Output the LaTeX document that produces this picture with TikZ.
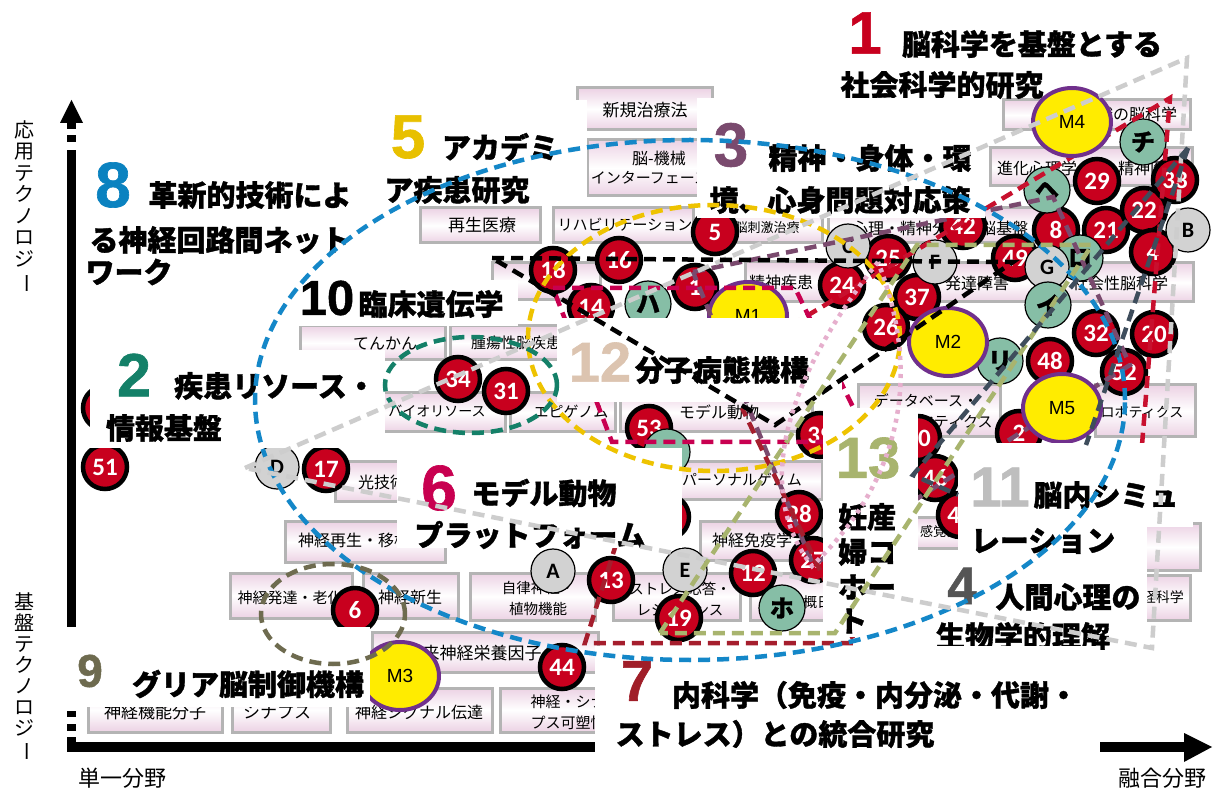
\documentclass[tikz,border=0pt]{standalone}
\usepackage{fontspec}
\setmainfont{Noto Sans CJK JP}
\newfontfamily\jp{Noto Sans CJK JP}[BoldFeatures={FakeBold=1.2}]
\newfontfamily\lat{Liberation Sans}[BoldFeatures={FakeBold=1}]
\newfontfamily\carl{Carlito}
\usetikzlibrary{shapes.geometric}
\definecolor{cRed}{RGB}{200,0,30}
\definecolor{cGreen}{RGB}{134,190,166}
\definecolor{cGray}{RGB}{210,210,210}
\definecolor{cYel}{RGB}{255,236,0}
\definecolor{cPur}{RGB}{112,48,140}
\definecolor{catpink}{RGB}{236,210,228}
\definecolor{catedge}{RGB}{180,180,180}
\definecolor{n1}{RGB}{200,0,30}
\definecolor{n2}{RGB}{20,128,104}
\definecolor{n3}{RGB}{122,74,110}
\definecolor{n4}{RGB}{85,85,85}
\definecolor{n5}{RGB}{232,192,0}
\definecolor{n6}{RGB}{200,0,80}
\definecolor{n7}{RGB}{160,30,40}
\definecolor{n8}{RGB}{10,130,192}
\definecolor{n9}{RGB}{110,107,79}
\definecolor{n11}{RGB}{190,190,190}
\definecolor{n12}{RGB}{220,196,176}
\definecolor{n13}{RGB}{168,180,110}
\definecolor{lBlue}{RGB}{20,135,200}
\definecolor{lYel}{RGB}{238,195,0}
\definecolor{lTeal}{RGB}{20,128,104}
\definecolor{lOlD}{RGB}{110,107,79}
\definecolor{lGray}{RGB}{205,205,205}
\definecolor{lOl}{RGB}{168,180,110}
\definecolor{lPink}{RGB}{230,175,205}
\definecolor{lSlate}{RGB}{62,77,92}
\definecolor{lRed}{RGB}{200,16,46}
\definecolor{lMag}{RGB}{200,0,80}
\definecolor{lDRed}{RGB}{165,30,45}
\definecolor{lPur}{RGB}{122,74,110}
\newcommand\cbox[4]{\path[cat] (#1,#2) rectangle (#3,#4);}
\tikzset{
 cat/.style={draw=catedge, line width=3pt, top color=catpink, bottom color=catpink, middle color=white},
 bt/.style={font=\jp\fontsize{#1}{#1}\selectfont, inner sep=0pt},
 btt/.style={font=\jp\fontsize{#1}{21}\selectfont, inner sep=0pt, align=center},
 redc/.style={circle, fill=cRed, draw=black, line width=4.5pt, minimum size=44pt, inner sep=0pt, text=white, font=\carl\bfseries\fontsize{25}{25}\selectfont},
 grnc/.style={circle, fill=cGreen, draw=black, line width=1.2pt, minimum size=46pt, inner sep=0pt, font=\jp\bfseries\fontsize{24}{24}\selectfont},
 gryc/.style={circle, fill=cGray, draw=black, line width=1.2pt, minimum size=44pt, inner sep=0pt, font=\carl\bfseries\fontsize{22}{22}\selectfont},
 mc/.style={ellipse, fill=cYel, draw=cPur, line width=4pt, minimum width=78pt, minimum height=68pt, inner sep=0pt, font=\lat\fontsize{19}{19}\selectfont},
 lab/.style={font=\jp\bfseries\fontsize{29}{29}\selectfont, inner sep=0pt},
 bn/.style={font=\lat\bfseries\fontsize{#1}{#1}\selectfont, inner sep=0pt},
 dl/.style={dash pattern=on 12pt off 7pt, line width=4.5pt},
 wb/.style={fill=white},
}
\begin{document}
\begin{tikzpicture}[x=1pt,y=-1pt]
\useasboundingbox (0,0) rectangle (1219,791);
\fill[white] (0,0) rectangle (1219,791);
% ---------- axes
\fill (60,123) -- (83,123) -- (71.5,100) -- cycle;
\fill (67,123) rectangle (76,129);
\fill (67,135) rectangle (76,142);
\fill (67,150) rectangle (76,630);
\fill (67,711) rectangle (76,717);
\fill (67,724) rectangle (76,731);
\fill (67,737) rectangle (76,752);
\fill (67,742) rectangle (596,752);
\fill (1100,742) rectangle (1186,752);
\fill (1184,733) -- (1212,747) -- (1184,762) -- cycle;
\node[font=\jp\fontsize{20}{21.5}\selectfont, align=center, inner sep=0pt] (ax1) at (24,207) {応\\用\\テ\\ク\\ノ\\ロ\\ジ\\\rotatebox[origin=c]{-90}{ー}};
\node[font=\jp\fontsize{20}{21}\selectfont, align=center, inner sep=0pt] (ax2) at (24,677) {基\\盤\\テ\\ク\\ノ\\ロ\\ジ\\\rotatebox[origin=c]{-90}{ー}};
\node[bt=22] (ax3) at (122,778) {単一分野};
\node[bt=22] (ax4) at (1162,778) {融合分野};
% ---------- category boxes
\cbox{577}{88}{712}{130}   \node[bt=17] (b1) at (645,110) {新規治療法};
\cbox{587}{140}{745}{196}  \node[bt=16,anchor=west] (b2a) at (632,158) {脳-機械}; \node[bt=15] (b2b) at (650,178) {インターフェース};
\cbox{420}{208}{540}{243}  \node[bt=17] (b3) at (482,225) {再生医療};
\cbox{553}{208}{693}{243}  \node[bt=15] (b4) at (625,225) {リハビリテーション};
\cbox{700}{208}{822}{243}  \node[bt=13] (b5) at (767,228) {脳刺激治療};
\cbox{828}{208}{1045}{243} \node[bt=16,anchor=west] (b6) at (852,228) {心理・精神分析の脳基盤};
\cbox{1003}{100}{1190}{130} \node[bt=16] (b7) at (1105,114) {自我・意識の脳科学};
\cbox{990}{148}{1192}{186} \node[bt=16,anchor=west] (b8a) at (997,168) {進化心理学}; \node[bt=16,anchor=west] (b8b) at (1118,168) {精神医学};
\cbox{1060}{263}{1193}{302} \node[bt=16] (b9) at (1120,283) {社会性脳科学};
\cbox{930}{263}{1035}{302} \node[bt=16] (b10) at (977,283) {発達障害};
\cbox{745}{262}{835}{302}  \node[bt=16] (b11) at (781,282) {精神疾患};
\cbox{492}{263}{600}{300}
\cbox{300}{326}{445}{360}  \node[bt=16] (b13) at (385,343) {てんかん};
\cbox{450}{326}{565}{360}  \node[bt=15] (b14) at (516,343) {腫瘍性脳疾患};
\cbox{380}{393}{505}{432}  \node[bt=14] (b15) at (437,411) {バイオリソース};
\cbox{510}{393}{615}{432}  \node[bt=15] (b16) at (571,412) {エピゲノム};
\cbox{620}{393}{812}{432}  \node[bt=16] (b17) at (719,412) {モデル動物};
\cbox{858}{385}{1000}{437} \node[btt=15] (b18) at (926,411) {データベース・\\インフォマティクス};
\cbox{1095}{385}{1195}{437} \node[bt=14] (b19) at (1142,412) {ロボティクス};
\cbox{335}{462}{445}{502}  \node[bt=16] (b20) at (382,482) {光技術};
\cbox{680}{462}{822}{500}  \node[bt=15] (b21) at (742,480) {パーソナルゲノム};
\cbox{285}{522}{445}{562}  \node[bt=16] (b22) at (354,540) {神経再生・移植};
\cbox{700}{522}{822}{560}  \node[bt=16] (b23) at (752,540) {神経免疫学};
\cbox{905}{518}{990}{548}  \node[bt=13,anchor=west] (b24) at (920,532) {感覚器};
\cbox{230}{573}{352}{618}  \node[bt=15] (b25) at (290,598) {神経発達・老化};
\cbox{363}{573}{458}{618}  \node[bt=16] (b26) at (410,597) {神経新生};
\cbox{470}{573}{595}{620}  \node[btt=14.5] (b27) at (538,598) {自律神経・\\植物機能};
\cbox{613}{573}{740}{620}  \node[btt=14.5] (b28) at (680,599) {ストレス応答・\\レジリエンス};
\cbox{750}{573}{830}{620}  \node[bt=14,anchor=west] (b29) at (803,602) {概日リズム};
\cbox{1050}{575}{1190}{620} \node[bt=14,anchor=east] (b30) at (1184,597) {神経科学};
\cbox{1100}{524}{1200}{570}
\cbox{372}{632}{598}{672}  \node[bt=17] (b31) at (465,653) {脳由来神経栄養因子};
\cbox{88}{688}{222}{732}   \node[bt=17] (b32) at (155,712) {神経機能分子};
\cbox{232}{688}{330}{732}  \node[bt=17] (b33) at (277,712) {シナプス};
\cbox{347}{688}{492}{732}  \node[bt=16] (b34) at (419,712) {神経シグナル伝達};
\cbox{500}{688}{600}{732}  \node[btt=15] (b35) at (568,712) {神経・シナ\\プス可塑性};
% ---------- red circles
\node[redc] (rh1) at (105,408) {};
\node[redc] (r51) at (105,467) {51};
\node[redc] (r17) at (326,469) {17};
\node[redc] (r34) at (458,379) {34};
\node[redc] (r31) at (506,391) {31};
\node[redc] (r18) at (553,270) {18};
\node[redc] (r16) at (619,260) {16};
\node[redc] (r14) at (591,307) {14};
\node[redc] (r1) at (695,287) {1};
\node[redc] (r5) at (715,232) {5};
\node[redc] (r24) at (842,285) {24};
\node[redc] (r25) at (888,258) {25};
\node[redc] (r42) at (963,226) {42};
\node[redc] (r49) at (1015,258) {49};
\node[redc] (r37) at (917,297) {37};
\node[redc] (r26) at (886,327) {26};
\node[redc] (r29) at (1097,181) {29};
\node[redc] (r8) at (1056,230) {8};
\node[redc] (r21) at (1106,230) {21};
\node[redc] (r22) at (1144,210) {22};
\node[redc] (r33) at (1175,180) {33};
\node[redc] (r4) at (1153,252) {4};
\node[redc] (r32) at (1096,333) {32};
\node[redc] (r20) at (1154,334) {20};
\node[redc] (r52) at (1124,372) {52};
\node[redc] (r48) at (1050,361) {48};
\node[redc] (r2) at (1019,433) {2};
\node[redc] (r30) at (918,438) {30};
\node[redc] (r46) at (935,478) {46};
\node[redc] (r47) at (960,515) {47};
\node[redc] (r53) at (649,428) {53};
\node[redc] (r39) at (820,435) {39};
\node[redc] (r28) at (799,514) {28};
\node[redc] (r27) at (813,560) {27};
\node[redc] (r12) at (753,573) {12};
\node[redc] (r13) at (611,580) {13};
\node[redc] (r19) at (679,618) {19};
\node[redc] (r44) at (562,667) {44};
\node[redc] (r6) at (355,610) {6};
\node[redc] (rh2) at (667,517) {};
% ---------- gray circles
\node[gryc] (gA) at (553,571) {A};
\node[gryc] (gE) at (685,570) {E};
\node[gryc] (gB) at (1188,230) {B};
\node[gryc] (gC) at (848,246) {C};
\node[gryc] (gF) at (935,262) {F};
\node[grnc] (kro) at (1080,258) {ロ};
\node[gryc] (gG) at (1047,267) {G};
\node[gryc] (gD) at (277,467) {D};
% ---------- green circles
\node[grnc] (khe) at (1047,190) {ヘ};
\node[grnc] (kchi) at (1143,142) {チ};
\node[grnc] (ki) at (1048,305) {イ};
\node[grnc] (kri) at (1000,361) {リ};
\node[grnc] (kha) at (648,304) {ハ};
\node[grnc] (kho) at (782,608) {ホ};
\node[grnc] (kni) at (667,452) {};
\node[mc] (m1) at (748,316) {M1};
% ---------- lines under labels
\draw[dl, lRed] (790,326) -- (1170,98) -- (1142,445);
\draw[dl, lMag] (553,288) -- (795,288) -- (870,442) -- (612,442) -- cycle;
\draw[dl, lPur] (693,272) -- (1053,197) -- (1130,365) -- (1020,433) -- (813,565) -- cycle;
\draw[dl, lDRed] (645,452) -- (585,643) -- (855,643) -- (742,408);
% ---------- M circles
\node[mc] (m4) at (1072,122) {M4};
\node[mc] (m2) at (948,342) {M2};
\node[mc] (m5) at (1062,408) {M5};
\node[mc] (m3) at (400,676) {M3};
% ---------- labels
\node[bn=60, text=n1] (t1) at (865,33) {1};
\node[lab] (l1a) at (1032,44) {脳科学を基盤とする};
\node[lab] (l1b) at (942,85) {社会科学的研究};
\fill[white] (697,98) rectangle (985,218);
\node[bn=62, text=n3] (t3) at (731,145) {3};
\node[lab] (l3a) at (870,158) {精神・身体・環};
\node[lab] (l3b) at (840,200) {境、心身問題対応策};
\fill[white] (380,100) rectangle (587,205);
\node[bn=62, text=n5] (t5) at (408,137) {5};
\node[lab] (l5a) at (500,147) {アカデミ};
\node[lab] (l5b) at (457,190) {ア疾患研究};
\node[bn=64, text=n8] (t8) at (113,185) {8};
\node[lab] (l8a) at (250,195) {革新的技術によ};
\node[lab] (l8b) at (220,240) {る神経回路間ネット};
\node[lab] (l8c) at (129,272) {ワーク};
\fill[white] (287,280) rectangle (518,326);
\node[bn=49] (t10) at (327,298) {10};
\node[lab] (l10) at (431,304) {臨床遺伝学};
\fill[white] (90,350) rectangle (385,448);
\node[bn=61, text=n2] (t2) at (134,375) {2};
\node[lab] (l2a) at (275,386) {疾患リソース・};
\node[lab] (l2b) at (164,428) {情報基盤};
\fill[white] (557,318) rectangle (842,402);
\node[bn=56, text=n12] (t12) at (600,362) {12};
\node[lab] (l12) at (722,370) {分子病態機構};
\fill[white] (397,448) rectangle (682,548);
\node[bn=64, text=n6] (t6) at (439,488) {6};
\node[lab] (l6a) at (544,493) {モデル動物};
\node[lab] (l6b) at (530,535) {プラットフォーム};
\fill[white] (823,408) rectangle (918,637);
\node[bn=58, text=n13] (t13) at (868,458) {13};
\node[lab, anchor=west] (l13a) at (838,517) {妊産};
\node[lab, anchor=west] (l13b) at (838,552) {婦コ};
\node[lab, anchor=west] (l13c) at (838,587) {ホー};
\node[lab, anchor=west] (l13d) at (838,621) {ト};
\fill[white] (958,443) rectangle (1193,527);
\fill[white] (958,527) rectangle (1147,562);
\node[bn=56, text=n11] (t11) at (1000,487) {11};
\node[lab] (l11a) at (1106,495) {脳内シミュ};
\node[lab] (l11b) at (1043,541) {レーション};
\fill[white] (920,562) rectangle (1147,652);
\node[bn=53, text=n4] (t4) at (962,586) {4};
\node[lab] (l4a) at (1068,597) {人間心理の};
\node[lab] (l4b) at (1023,636) {生物学的理解};
\fill[white] (595,646) rectangle (1100,762);
\node[bn=58, text=n7] (t7) at (637,681) {7};
\node[lab] (l7a) at (875,695) {内科学（免疫・内分泌・代謝・};
\node[lab] (l7b) at (775,734) {ストレス）との統合研究};
\fill[white] (60,627) rectangle (370,707);
\node[bn=46, text=n9] (t9) at (90,671) {9};
\node[lab] (l9) at (248,684) {グリア脳制御機構};
% ---------- lines over everything
\draw[dl, lBlue] (690,400) ellipse [x radius=435pt, y radius=260pt];
\draw[dl, lYel] (714,338) ellipse [x radius=186pt, y radius=133pt];
\draw[dl, lTeal] (471,385) ellipse [x radius=86pt, y radius=48pt];
\draw[dl, lOlD] (333,614) ellipse [x radius=72pt, y radius=50pt];
\draw[dl, lGray] (245,468) -- (1187,58) -- (1152,648) -- cycle;
\draw[dl, black] (492,258) -- (1013,262) -- (775,425) -- cycle;
\draw[dl, lOl] (660,633) -- (917,245) -- (1092,245) -- (835,633) -- cycle;
\draw[lPink, line width=4.5pt, dash pattern=on 4pt off 5pt] (878,262) .. controls (800,360) and (745,480) .. (812,566) .. controls (860,520) and (940,420) .. (878,262);
\draw[dl, lSlate] (1188,148) -- (1086,445);
\draw[dl, lSlate] (1188,148) -- (913,475) -- (958,495);
\end{tikzpicture}
\end{document}
